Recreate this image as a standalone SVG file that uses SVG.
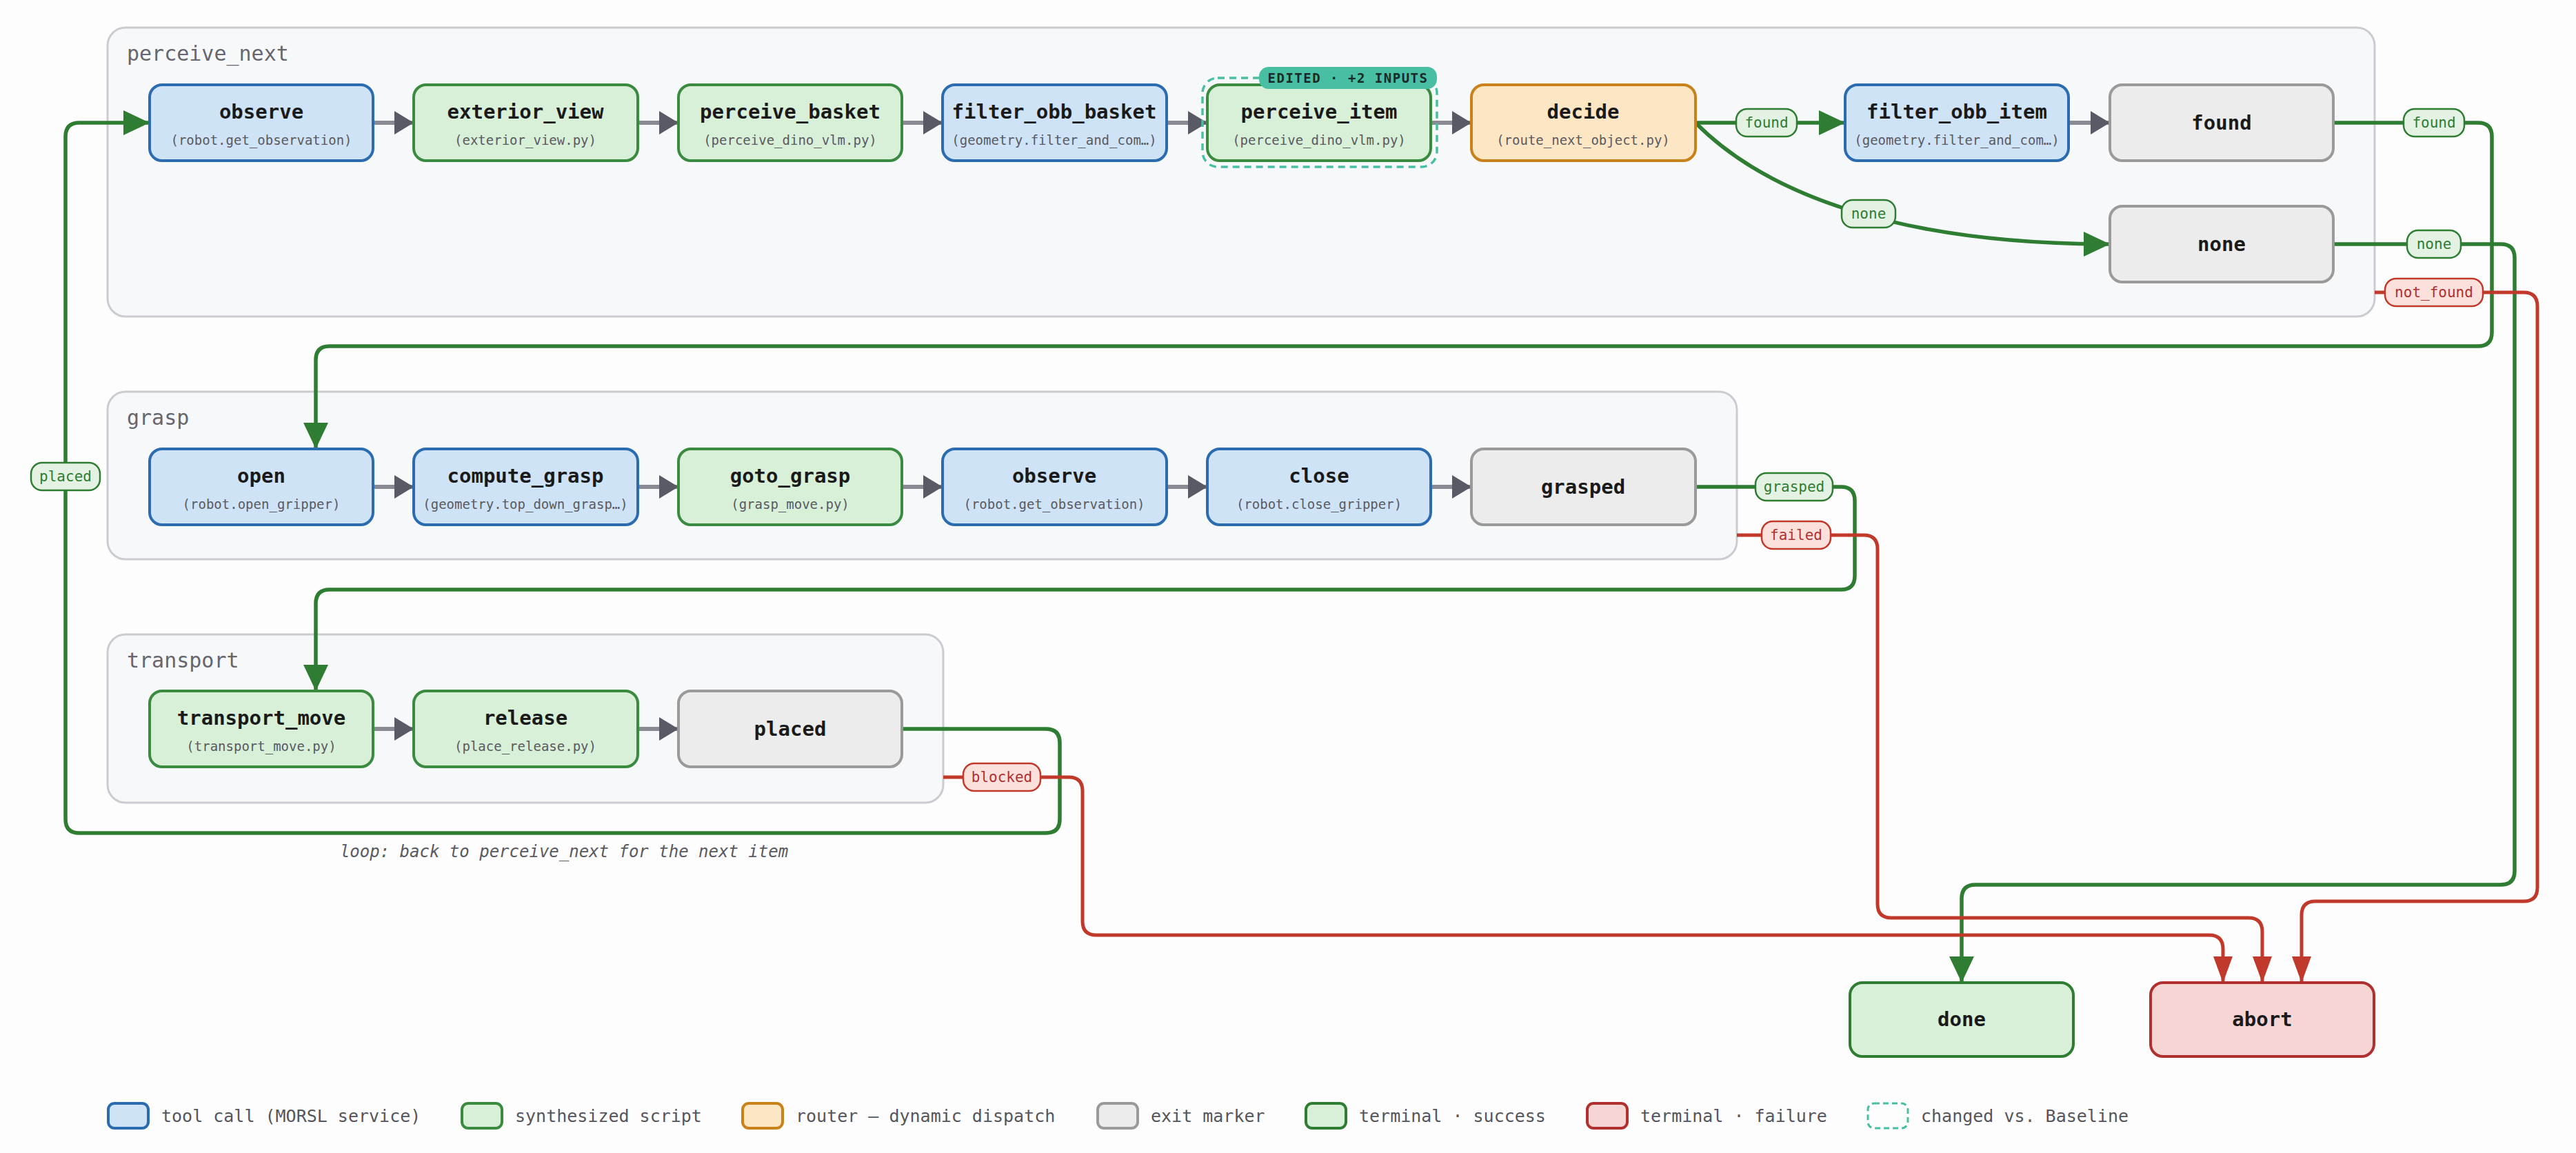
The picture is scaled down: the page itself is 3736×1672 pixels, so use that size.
<svg xmlns="http://www.w3.org/2000/svg" width="3736" height="1672" viewBox="0 0 3736 1672">
<style>
text{font-family:"DejaVu Sans Mono","Liberation Mono",monospace}
.cl{fill:#f7f8fa;stroke:#cbcbd2;stroke-width:3}
.ct{font-size:30px;fill:#66666e}
.t{font-size:29px;font-weight:bold;fill:#1a1a1a;text-anchor:middle}
.s{font-size:19px;fill:#5a5a62;text-anchor:middle}
.tool{fill:#cfe3f7;stroke:#2b6cb0;stroke-width:4}
.scr{fill:#d8efd8;stroke:#3a8a3f;stroke-width:4}
.rt{fill:#fde6c4;stroke:#c9811a;stroke-width:4}
.ex{fill:#ececec;stroke:#9a9a9a;stroke-width:4}
.ok{fill:#d8efd8;stroke:#2e7d32;stroke-width:4}
.bad{fill:#f6d5d5;stroke:#b03030;stroke-width:4}
.seq{stroke:#8a8a94;stroke-width:6;fill:none}
.g{stroke:#2e7d32;stroke-width:5.5;fill:none}
.r{stroke:#c0392b;stroke-width:5;fill:none}
.pg{fill:#e3f2e3;stroke:#2e7d32;stroke-width:2.5}
.pr{fill:#fbe0dc;stroke:#c0392b;stroke-width:2.5}
.pgt{font-size:21px;fill:#2e7d32;text-anchor:middle}
.prt{font-size:21px;fill:#b03030;text-anchor:middle}
.lg{font-size:25px;fill:#55555c}
</style>
<defs>
<marker id="ag" markerUnits="userSpaceOnUse" markerWidth="40" markerHeight="40" viewBox="0 0 40 40" refX="38" refY="20" orient="auto"><path d="M0,2 L38,20 L0,38 Z" fill="#2e7d32"/></marker>
<marker id="ar" markerUnits="userSpaceOnUse" markerWidth="40" markerHeight="40" viewBox="0 0 40 40" refX="38" refY="20" orient="auto"><path d="M0,6 L38,20 L0,34 Z" fill="#c0392b"/></marker>
<marker id="aq" markerUnits="userSpaceOnUse" markerWidth="30" markerHeight="40" viewBox="0 0 30 40" refX="28" refY="20" orient="auto"><path d="M0,3 L28,20 L0,37 Z" fill="#5a5a66"/></marker>
</defs>
<rect width="3736" height="1672" fill="#fdfdfd"/>
<g id="clusters">
<rect class="cl" x="156" y="40" width="3288" height="419" rx="26"/>
<text class="ct" x="184" y="88">perceive_next</text>
<rect class="cl" x="156" y="568" width="2363" height="243" rx="26"/>
<text class="ct" x="184" y="616">grasp</text>
<rect class="cl" x="156" y="920" width="1212" height="244" rx="26"/>
<text class="ct" x="184" y="968">transport</text>
</g>
<g id="connectors">
<path class="seq" marker-end="url(#aq)" d="M541,178 H600"/>
<path class="seq" marker-end="url(#aq)" d="M925,178 H984"/>
<path class="seq" marker-end="url(#aq)" d="M1308,178 H1367"/>
<path class="seq" marker-end="url(#aq)" d="M1692,178 H1751"/>
<path class="seq" marker-end="url(#aq)" d="M2075,178 H2134"/>
<path class="seq" marker-end="url(#aq)" d="M3000,178 H3060"/>
<path class="seq" marker-end="url(#aq)" d="M541,706 H600"/>
<path class="seq" marker-end="url(#aq)" d="M925,706 H984"/>
<path class="seq" marker-end="url(#aq)" d="M1308,706 H1367"/>
<path class="seq" marker-end="url(#aq)" d="M1692,706 H1751"/>
<path class="seq" marker-end="url(#aq)" d="M2075,706 H2134"/>
<path class="seq" marker-end="url(#aq)" d="M541,1057 H600"/>
<path class="seq" marker-end="url(#aq)" d="M925,1057 H984"/>
<path class="g" marker-end="url(#ag)" d="M2459,178 H2676"/>
<path class="g" marker-end="url(#ag)" d="M2459,178 C2560,280 2750,354 3060,354"/>
<path class="g" marker-end="url(#ag)" d="M3384,178 H3594 Q3614,178 3614,198 V482 Q3614,502 3594,502 H478 Q458,502 458,522 V651"/>
<path class="g" marker-end="url(#ag)" d="M3384,354 H3627 Q3647,354 3647,374 V1263 Q3647,1283 3627,1283 H2865 Q2845,1283 2845,1303 V1425"/>
<path class="r" marker-end="url(#ar)" d="M3444,424 H3660 Q3680,424 3680,444 V1287 Q3680,1307 3660,1307 H3358 Q3338,1307 3338,1327 V1425"/>
<path class="g" marker-end="url(#ag)" d="M2459,706 H2670 Q2690,706 2690,726 V835 Q2690,855 2670,855 H478 Q458,855 458,875 V1002"/>
<path class="r" marker-end="url(#ar)" d="M2519,776 H2703 Q2723,776 2723,796 V1311 Q2723,1331 2743,1331 H3261 Q3281,1331 3281,1351 V1425"/>
<path class="g" marker-end="url(#ag)" d="M1308,1057 H1517 Q1537,1057 1537,1077 V1188 Q1537,1208 1517,1208 H115 Q95,1208 95,1188 V198 Q95,178 115,178 H217"/>
<path class="r" marker-end="url(#ar)" d="M1368,1127 H1550 Q1570,1127 1570,1147 V1336 Q1570,1356 1590,1356 H3204 Q3224,1356 3224,1376 V1425"/>
<rect class="pg" x="2518" y="158" width="88" height="40" rx="16"/><text class="pgt" x="2562" y="185">found</text>
<rect class="pg" x="2671" y="290" width="78" height="40" rx="16"/><text class="pgt" x="2710" y="317">none</text>
<rect class="pg" x="3486" y="158" width="88" height="40" rx="16"/><text class="pgt" x="3530" y="185">found</text>
<rect class="pg" x="3491" y="334" width="78" height="40" rx="16"/><text class="pgt" x="3530" y="361">none</text>
<rect class="pr" x="3459" y="404" width="142" height="40" rx="16"/><text class="prt" x="3530" y="431">not_found</text>
<rect class="pg" x="2546" y="686" width="112" height="40" rx="16"/><text class="pgt" x="2602" y="713">grasped</text>
<rect class="pr" x="2555" y="756" width="100" height="40" rx="16"/><text class="prt" x="2605" y="783">failed</text>
<rect class="pg" x="45" y="671" width="100" height="40" rx="16"/><text class="pgt" x="95" y="698">placed</text>
<rect class="pr" x="1397" y="1107" width="112" height="40" rx="16"/><text class="prt" x="1453" y="1134">blocked</text>
<text x="818" y="1243" font-size="24" font-style="italic" fill="#5a5a62" text-anchor="middle">loop: back to perceive_next for the next item</text>
</g>
<g id="n_observe"><rect class="tool" x="217" y="123" width="324" height="110" rx="18"/><text class="t" x="379" y="172">observe</text><text class="s" x="379" y="210">(robot.get_observation)</text></g>
<g id="n_exterior_view"><rect class="scr" x="600" y="123" width="325" height="110" rx="18"/><text class="t" x="762" y="172">exterior_view</text><text class="s" x="762" y="210">(exterior_view.py)</text></g>
<g id="n_perceive_basket"><rect class="scr" x="984" y="123" width="324" height="110" rx="18"/><text class="t" x="1146" y="172">perceive_basket</text><text class="s" x="1146" y="210">(perceive_dino_vlm.py)</text></g>
<g id="n_filter_obb_basket"><rect class="tool" x="1367" y="123" width="325" height="110" rx="18"/><text class="t" x="1529" y="172">filter_obb_basket</text><text class="s" x="1529" y="210">(geometry.filter_and_com…)</text></g>
<g id="n_perceive_item"><rect x="1744" y="113" width="340" height="129" rx="22" fill="none" stroke="#48bfa3" stroke-width="3.5" stroke-dasharray="10 7"/><rect class="scr" x="1751" y="123" width="324" height="110" rx="18"/><text class="t" x="1913" y="172">perceive_item</text><text class="s" x="1913" y="210">(perceive_dino_vlm.py)</text>
<rect x="1826" y="97" width="258" height="32" rx="14" fill="#48bfa3"/><text x="1955" y="120" font-size="19" font-weight="bold" fill="#1a2a28" text-anchor="middle" letter-spacing="1.5">EDITED · +2 INPUTS</text></g>
<g id="n_decide"><rect class="rt" x="2134" y="123" width="325" height="110" rx="18"/><text class="t" x="2296" y="172">decide</text><text class="s" x="2296" y="210">(route_next_object.py)</text></g>
<g id="n_filter_obb_item"><rect class="tool" x="2676" y="123" width="324" height="110" rx="18"/><text class="t" x="2838" y="172">filter_obb_item</text><text class="s" x="2838" y="210">(geometry.filter_and_com…)</text></g>
<g id="n_found"><rect class="ex" x="3060" y="123" width="324" height="110" rx="18"/><text class="t" x="3222" y="188">found</text></g>
<g id="n_none"><rect class="ex" x="3060" y="299" width="324" height="110" rx="18"/><text class="t" x="3222" y="364">none</text></g>
<g id="n_open"><rect class="tool" x="217" y="651" width="324" height="110" rx="18"/><text class="t" x="379" y="700">open</text><text class="s" x="379" y="738">(robot.open_gripper)</text></g>
<g id="n_compute_grasp"><rect class="tool" x="600" y="651" width="325" height="110" rx="18"/><text class="t" x="762" y="700">compute_grasp</text><text class="s" x="762" y="738">(geometry.top_down_grasp…)</text></g>
<g id="n_goto_grasp"><rect class="scr" x="984" y="651" width="324" height="110" rx="18"/><text class="t" x="1146" y="700">goto_grasp</text><text class="s" x="1146" y="738">(grasp_move.py)</text></g>
<g id="n_observe2"><rect class="tool" x="1367" y="651" width="325" height="110" rx="18"/><text class="t" x="1529" y="700">observe</text><text class="s" x="1529" y="738">(robot.get_observation)</text></g>
<g id="n_close"><rect class="tool" x="1751" y="651" width="324" height="110" rx="18"/><text class="t" x="1913" y="700">close</text><text class="s" x="1913" y="738">(robot.close_gripper)</text></g>
<g id="n_grasped"><rect class="ex" x="2134" y="651" width="325" height="110" rx="18"/><text class="t" x="2296" y="716">grasped</text></g>
<g id="n_transport_move"><rect class="scr" x="217" y="1002" width="324" height="110" rx="18"/><text class="t" x="379" y="1051">transport_move</text><text class="s" x="379" y="1089">(transport_move.py)</text></g>
<g id="n_release"><rect class="scr" x="600" y="1002" width="325" height="110" rx="18"/><text class="t" x="762" y="1051">release</text><text class="s" x="762" y="1089">(place_release.py)</text></g>
<g id="n_placed"><rect class="ex" x="984" y="1002" width="324" height="110" rx="18"/><text class="t" x="1146" y="1067">placed</text></g>
<g id="n_done"><rect class="ok" x="2683" y="1425" width="324" height="107" rx="18"/><text class="t" x="2845" y="1488">done</text></g>
<g id="n_abort"><rect class="bad" x="3119" y="1425" width="324" height="107" rx="18"/><text class="t" x="3281" y="1488">abort</text></g>
<g id="legend">
<rect class="tool" x="157" y="1600" width="58" height="36" rx="9"/><text class="lg" x="234" y="1627">tool call (MORSL service)</text>
<rect class="scr" x="670" y="1600" width="58" height="36" rx="9"/><text class="lg" x="747" y="1627">synthesized script</text>
<rect class="rt" x="1077" y="1600" width="58" height="36" rx="9"/><text class="lg" x="1154" y="1627">router — dynamic dispatch</text>
<rect class="ex" x="1592" y="1600" width="58" height="36" rx="9"/><text class="lg" x="1669" y="1627">exit marker</text>
<rect class="ok" x="1894" y="1600" width="58" height="36" rx="9"/><text class="lg" x="1971" y="1627">terminal · success</text>
<rect class="bad" x="2302" y="1600" width="58" height="36" rx="9"/><text class="lg" x="2379" y="1627">terminal · failure</text>
<rect x="2709" y="1600" width="58" height="36" rx="9" fill="none" stroke="#48bfa3" stroke-width="3" stroke-dasharray="8 5"/><text class="lg" x="2786" y="1627">changed vs. Baseline</text>
</g>
</svg>
